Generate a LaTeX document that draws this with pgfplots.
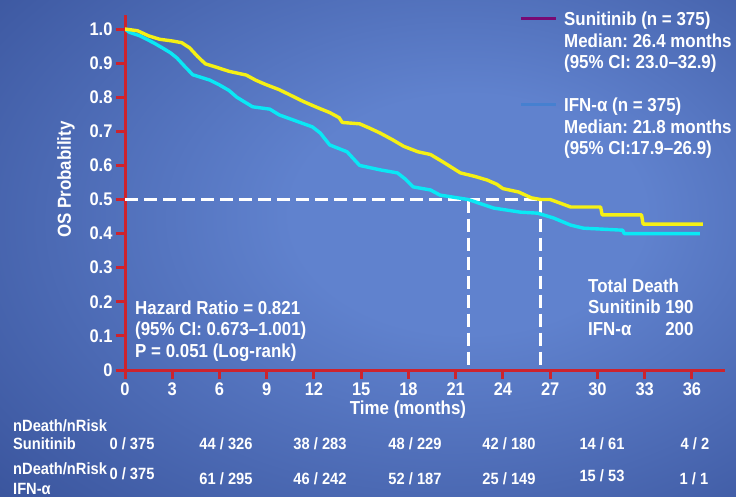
\documentclass[border=0pt]{standalone}
\usepackage{fontspec}
\setmainfont{Liberation Sans}[FakeStretch=0.9]
\usepackage{pgfplots}
\pgfplotsset{compat=1.18}
\frenchspacing
\definecolor{bgin}{RGB}{96,130,206}
\definecolor{bgout}{RGB}{34,56,126}
\definecolor{axred}{RGB}{205,35,45}
\definecolor{suncol}{RGB}{245,240,20}
\definecolor{ifncol}{RGB}{10,232,245}
\definecolor{legpurple}{RGB}{120,10,115}
\definecolor{legblue}{RGB}{70,128,208}
\pgfdeclareradialshading{bgshade}{\pgfpoint{8bp}{4bp}}{color(0bp)=(bgin); color(12bp)=(bgin); color(58bp)=(bgout); color(80bp)=(bgout)}
\newcommand{\bigf}{\bfseries\fontsize{18.8}{21.5}\selectfont}
\newcommand{\rskf}{\bfseries\fontsize{16.3}{18}\selectfont}
\begin{document}
\frenchspacing
\begin{tikzpicture}
\useasboundingbox (0,0) rectangle (736pt,496pt);
\shade[shading=bgshade] (0,0) rectangle (736pt,496pt);
\begin{axis}[
  at={(125pt,126pt)}, anchor=south west,
  scale only axis, width=600pt, height=354.6pt,
  xmin=0, xmax=38.1, ymin=0, ymax=1.04,
  axis x line*=bottom, axis y line*=left,
  axis line style={draw=axred, line width=3pt},
  tick align=outside, major tick length=9pt,
  tick style={draw=axred, line width=3pt},
  xtick={0,3,6,9,12,15,18,21,24,27,30,33,36},
  xticklabels={0,3,6,9,12,15,18,21,24,27,30,33,36},
  ytick={0,0.1,0.2,0.3,0.4,0.5,0.6,0.7,0.8,0.9,1.0},
  yticklabels={0,0.1,0.2,0.3,0.4,0.5,0.6,0.7,0.8,0.9,1.0},
  ticklabel style={font=\bfseries\fontsize{18.3}{20}\selectfont, text=white},
  xlabel={Time (months)}, ylabel={OS Probability},
  xlabel style={at={(rel axis cs:0.5,0)}, anchor=center, xshift=-17pt, yshift=-40pt, font=\bigf, text=white},
  ylabel style={at={(rel axis cs:0,0.5)}, anchor=center, xshift=13pt, yshift=59pt, font=\bigf, text=white},
]
% median reference lines
\addplot[white, line width=2.6pt, dash pattern=on 13pt off 6pt] coordinates {(0,0.5) (26.4,0.5)};
\addplot[white, line width=2.6pt, dash pattern=on 13pt off 6pt] coordinates {(21.8,0.5) (21.8,0)};
\addplot[white, line width=2.6pt, dash pattern=on 13pt off 6pt] coordinates {(26.4,0.5) (26.4,0)};
% IFN-alpha
\addplot[ifncol, line width=3.4pt, line join=round] coordinates {
(0,1.0) (0.3,0.99) (0.95,0.98) (1.8,0.96) (2.4,0.944) (2.9,0.93) (3.3,0.915) (3.8,0.89) (4.3,0.866) (5.4,0.85) (6.0,0.836) (6.6,0.82) (7.1,0.80) (8.1,0.772) (9.2,0.765) (9.8,0.748) (10.7,0.733) (11.9,0.713) (12.4,0.695) (13.0,0.66) (14.1,0.64) (14.5,0.62) (14.9,0.60) (16.2,0.587) (17.3,0.578) (17.8,0.56) (18.3,0.537) (19.4,0.528) (20.0,0.513) (21.8,0.5) (23.4,0.475) (25.1,0.463) (26.2,0.46) (27.2,0.446) (28.3,0.425) (29.1,0.416) (31.6,0.41) (31.7,0.40) (36.5,0.40)};
% Sunitinib
\addplot[suncol, line width=3.4pt, line join=round] coordinates {
(0,1.0) (0.8,0.995) (1.5,0.98) (2.2,0.97) (3.0,0.965) (3.6,0.96) (4.1,0.945) (4.6,0.92) (5.1,0.898) (5.8,0.888) (6.6,0.876) (7.7,0.865) (8.3,0.85) (8.9,0.838) (9.8,0.822) (10.6,0.804) (11.3,0.788) (12.2,0.77) (13.0,0.755) (13.6,0.74) (13.8,0.726) (14.9,0.722) (15.5,0.71) (16.2,0.695) (17.0,0.675) (17.7,0.656) (18.6,0.64) (19.4,0.632) (20.2,0.61) (21.3,0.578) (22.2,0.568) (23.0,0.557) (23.6,0.545) (24.0,0.532) (25.0,0.522) (25.8,0.505) (26.4,0.5) (27.0,0.5) (27.6,0.49) (28.3,0.478) (30.2,0.478) (30.3,0.455) (32.8,0.455) (32.9,0.428) (36.7,0.428)};
\end{axis}
% legend
\draw[legpurple, line width=3pt] (521pt,477pt) -- (556pt,477pt);
\node[anchor=base west, inner sep=0pt, text=white, font=\bigf] at (564pt,470pt)
  {\begin{tabular}[t]{@{}l@{}}Sunitinib (n = 375)\\Median: 26.4 months\\(95\% CI: 23.0--32.9)\end{tabular}};
\draw[legblue, line width=3pt] (521pt,391pt) -- (556pt,391pt);
\node[anchor=base west, inner sep=0pt, text=white, font=\bigf] at (564pt,384pt)
  {\begin{tabular}[t]{@{}l@{}}IFN-α (n = 375)\\Median: 21.8 months\\(95\% CI:17.9--26.9)\end{tabular}};
% annotations
\node[anchor=base west, inner sep=0pt, text=white, font=\bigf] at (135pt,182pt)
  {\begin{tabular}[t]{@{}l@{}}Hazard Ratio = 0.821\\(95\% CI: 0.673--1.001)\\P = 0.051 (Log-rank)\end{tabular}};
\node[anchor=base west, inner sep=0pt, text=white, font=\bigf] at (588pt,204pt)
  {\begin{tabular}[t]{@{}l@{\ }r@{}}\multicolumn{2}{@{}l@{}}{Total Death}\\Sunitinib&190\\IFN-α&200\end{tabular}};
% risk table
\begin{scope}[every node/.style={text=white, font=\rskf, inner sep=0pt}]
\node[anchor=base west] at (13pt,65pt) {nDeath/nRisk};
\node[anchor=base west] at (13pt,47pt) {Sunitinib};
\node[anchor=base west] at (13pt,22pt) {nDeath/nRisk};
\node[anchor=base west] at (13pt,2pt) {IFN-α};
\node[anchor=base] at (132pt,47pt) {0 / 375};
\node[anchor=base] at (226pt,47pt) {44 / 326};
\node[anchor=base] at (320pt,47pt) {38 / 283};
\node[anchor=base] at (415pt,47pt) {48 / 229};
\node[anchor=base] at (509pt,47pt) {42 / 180};
\node[anchor=base] at (602pt,47pt) {14 / 61};
\node[anchor=base] at (695pt,47pt) {4 / 2};
\node[anchor=base] at (132pt,17pt) {0 / 375};
\node[anchor=base] at (226pt,12pt) {61 / 295};
\node[anchor=base] at (320pt,12pt) {46 / 242};
\node[anchor=base] at (415pt,12pt) {52 / 187};
\node[anchor=base] at (509pt,12pt) {25 / 149};
\node[anchor=base] at (602pt,15pt) {15 / 53};
\node[anchor=base] at (694pt,12pt) {1 / 1};
\end{scope}
\end{tikzpicture}
\end{document}
